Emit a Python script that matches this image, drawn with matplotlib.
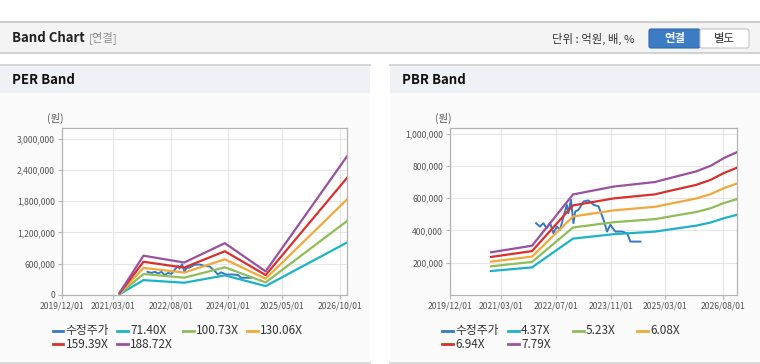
import numpy as np
import pandas as pd
import matplotlib
matplotlib.use('Agg')
import matplotlib.pyplot as plt
from matplotlib.patches import Rectangle, FancyBboxPatch
from matplotlib.ticker import FuncFormatter

plt.rcParams['font.family'] = ['Noto Sans CJK KR', 'DejaVu Sans']

W, H = 760, 364

# 수정주가 (두 차트 공통)
price_dates = pd.to_datetime([
    '2022-01-06', '2022-02-10', '2022-03-12', '2022-04-11', '2022-05-11', '2022-06-09',
    '2022-07-10', '2022-08-08', '2022-09-07', '2022-10-07', '2022-10-21', '2022-11-12',
    '2022-12-05', '2022-12-20', '2023-01-19', '2023-03-05', '2023-04-18', '2023-06-02',
    '2023-07-17', '2023-08-30', '2023-09-30', '2023-10-29', '2023-12-13', '2024-02-11',
    '2024-03-27', '2024-04-25', '2024-07-24'])
price_vals = [445000, 424000, 445000, 414000, 445000, 383000,
              424000, 404000, 486000, 559000, 507000, 590000,
              445000, 517000, 528000, 580000, 586000, 559000,
              549000, 466000, 393000, 435000, 393000, 393000,
              383000, 331000, 331000]

# PER 밴드
per_dates = pd.to_datetime(['2021-05-01', '2021-12-01', '2022-12-01',
                            '2023-12-01', '2024-12-01', '2026-12-01'])
per_labels = ['71.40X', '100.73X', '130.06X', '159.39X', '188.72X']
per_71 = [16400, 285600, 235600, 376300, 171400, 1006700]
per_100 = [23200, 402900, 332400, 530800, 241800, 1420300]
per_130 = [29900, 520200, 429200, 685400, 312100, 1833800]
per_159 = [36700, 637600, 526000, 840000, 382500, 2247400]
per_188 = [43400, 754900, 622800, 994600, 452900, 2661000]
per_xticks = ['2019-12-01', '2021-03-01', '2022-08-01', '2024-01-01', '2025-05-01', '2026-10-01']
per_xlabels = ['2019/12/01', '2021/03/01', '2022/08/01', '2024/01/01', '2025/05/01', '2026/10/01']

# PBR 밴드
pbr_dates = pd.to_datetime(['2020-12-01', '2021-12-01', '2022-12-01', '2023-12-01',
                            '2024-12-01', '2025-04-15', '2025-12-01', '2026-04-10',
                            '2026-08-08', '2026-12-01'])
pbr_labels = ['4.37X', '5.23X', '6.08X', '6.94X', '7.79X']
pbr_437 = [148600, 171300, 349600, 377100, 392900, 406800, 429600, 449200, 476300, 496900]
pbr_523 = [177800, 205000, 418400, 451300, 470200, 486900, 514100, 537600, 570100, 594700]
pbr_608 = [206700, 238300, 486400, 524700, 546600, 566000, 597700, 625000, 662700, 691300]
pbr_694 = [236000, 272000, 555200, 598900, 623900, 646100, 682200, 713400, 756500, 789100]
pbr_779 = [264900, 305400, 623200, 672300, 700300, 725200, 765700, 800800, 849100, 885700]
pbr_xticks = ['2019-12-01', '2021-03-01', '2022-07-01', '2023-11-01', '2025-03-01', '2026-08-01']
pbr_xlabels = ['2019/12/01', '2021/03/01', '2022/07/01', '2023/11/01', '2025/03/01', '2026/08/01']

price_color = '#3478c6'
band_colors = ['#1db3c7', '#8fbd57', '#f2a93b', '#d9302c', '#9a51a0']


def px_axes(fig, x0, y0, x1, y1):
    return fig.add_axes([x0 / W, 1 - y1 / H, (x1 - x0) / W, (y1 - y0) / H])


def draw_band(ax, dates, bands, ymax, yticks, xticks, xlabels):
    ax.plot(price_dates, price_vals, color=price_color, lw=1.4, zorder=3)
    for vals, c in zip(bands, band_colors):
        ax.plot(dates, vals, color=c, lw=1.6, zorder=4)
    ax.set_xlim(pd.Timestamp('2019-12-01'), pd.Timestamp('2026-12-01'))
    ax.set_ylim(0, ymax)
    ax.set_yticks(yticks)
    ax.yaxis.set_major_formatter(FuncFormatter(lambda v, p: f'{v:,.0f}'))
    ax.set_xticks(pd.to_datetime(xticks))
    ax.set_xticklabels(xlabels)
    ax.grid(color='#e6e6e6', lw=0.8)
    ax.set_axisbelow(True)
    for s in ax.spines.values():
        s.set_color('#b4b4b4')
        s.set_linewidth(0.9)
    ax.tick_params(length=3, color='#b4b4b4', labelsize=6.2, labelcolor='#555555', pad=2)
    ax.set_facecolor('white')


fig = plt.figure(figsize=(W / 100, H / 100), dpi=100)
bg = fig.add_axes([0, 0, 1, 1])
bg.set_xlim(0, W)
bg.set_ylim(H, 0)
bg.axis('off')

# 상단 헤더
bg.add_patch(Rectangle((0, 22), W, 30, facecolor='#f4f4f4', edgecolor='none'))
bg.plot([0, W], [21.5, 21.5], color='#c4c4c4', lw=1.2)
bg.plot([0, W], [52.5, 52.5], color='#d2d2d2', lw=1.5)
bg.text(12, 38, 'Band Chart', fontsize=9.5, fontweight='bold', color='#222222', va='center')
bg.text(89, 38, '[연결]', fontsize=8.2, color='#8a8a8a', va='center')
bg.text(552, 38.5, '단위 : 억원, 배, %', fontsize=8.2, color='#333333', va='center')
bg.add_patch(FancyBboxPatch((649, 29), 51, 19, boxstyle='round,pad=0,rounding_size=2',
                            facecolor='#3c7cc4', edgecolor='#2f68aa', lw=0.8))
bg.add_patch(FancyBboxPatch((700, 29), 49, 19, boxstyle='round,pad=0,rounding_size=2',
                            facecolor='white', edgecolor='#c4c4c4', lw=0.8))
bg.text(674.5, 38.5, '연결', fontsize=8.2, fontweight='bold', color='white', ha='center', va='center')
bg.text(724.5, 38.5, '별도', fontsize=8.2, color='#333333', ha='center', va='center')

# 패널 배경
for x0, x1, title in [(0, 370, 'PER Band'), (390, 760, 'PBR Band')]:
    bg.add_patch(Rectangle((x0, 64), x1 - x0, 299, facecolor='#fbfbfc', edgecolor='none'))
    bg.add_patch(Rectangle((x0, 65), x1 - x0, 27.5, facecolor='#eef2f7', edgecolor='none'))
    bg.plot([x0, x1], [64.5, 64.5], color='#d4d4d4', lw=1.3)
    bg.plot([x0, x1], [362.5, 362.5], color='#d8d8d8', lw=1.3)
    bg.text(x0 + 11.7, 80.5, title, fontsize=9.5, fontweight='bold', color='#111111', va='center')

bg.text(47, 118, '(원)', fontsize=7.5, color='#555555', va='center')
bg.text(435, 118, '(원)', fontsize=7.5, color='#555555', va='center')

ax1 = px_axes(fig, 62, 128, 347, 295)
draw_band(ax1, per_dates, [per_71, per_100, per_130, per_159, per_188],
          3205000, np.arange(0, 3000001, 600000), per_xticks, per_xlabels)

ax2 = px_axes(fig, 450, 128, 737, 295)
draw_band(ax2, pbr_dates, [pbr_437, pbr_523, pbr_608, pbr_694, pbr_779],
          1035000, np.arange(200000, 1000001, 200000), pbr_xticks, pbr_xlabels)

# 범례
legend_colors = [price_color] + band_colors
rows = [330.5, 330.5, 330.5, 330.5, 344, 344]
for labels, xs in [(['수정주가'] + per_labels, [52.7, 117, 183, 247, 52.7, 117]),
                   (['수정주가'] + pbr_labels, [442, 508, 573, 637, 442, 508])]:
    for lab, c, x, y in zip(labels, legend_colors, xs, rows):
        bg.plot([x, x + 10.5], [y, y], color=c, lw=2)
        bg.text(x + 13, y, lab, fontsize=8.5, color='#333333', va='center')

fig.savefig('out.png', dpi=100)
